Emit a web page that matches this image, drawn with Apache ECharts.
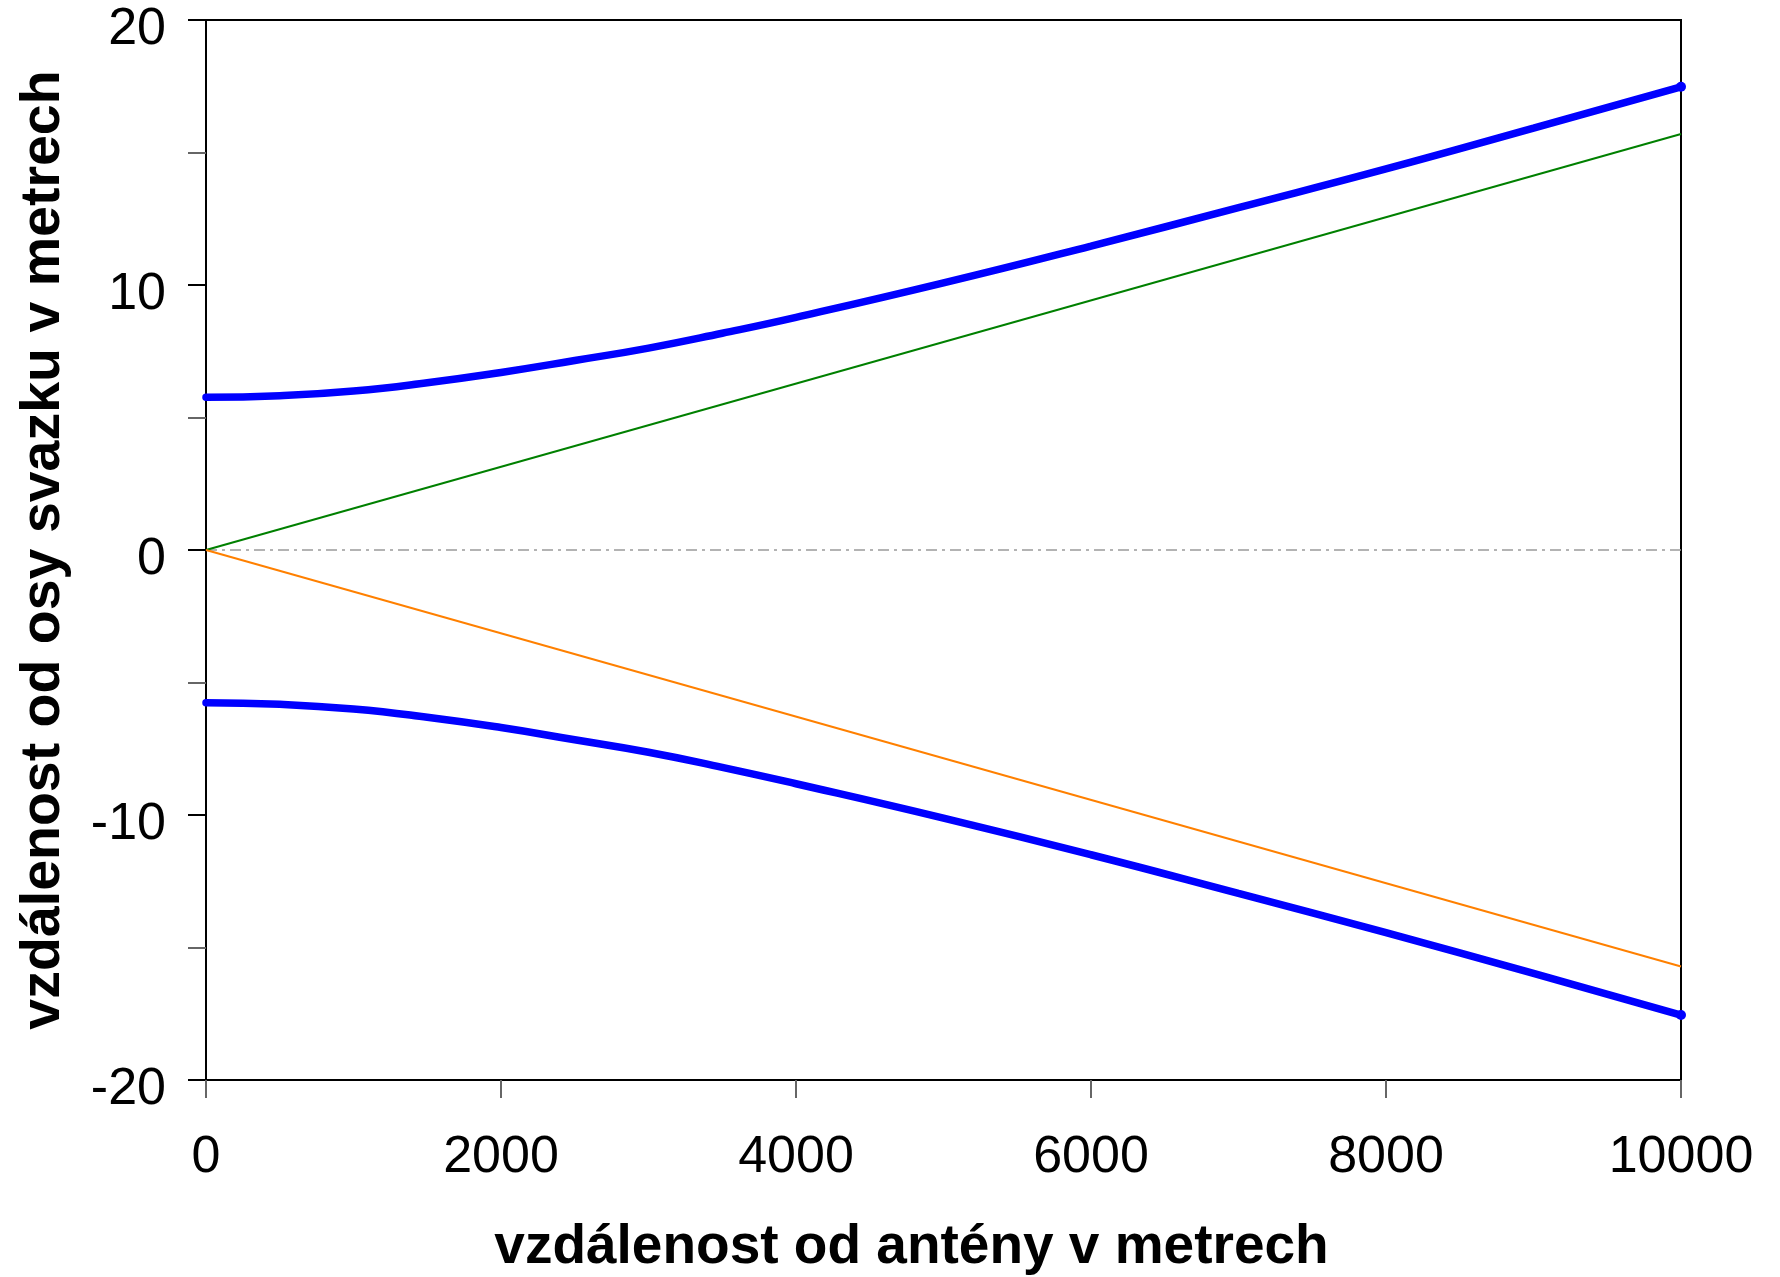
<!DOCTYPE html>
<html>
<head>
<meta charset="utf-8">
<script src="https://cdn.jsdelivr.net/npm/echarts@6/dist/echarts.min.js"></script>
<style>
html,body{margin:0;padding:0;background:#fff;}
#chart{width:1780px;height:1277px;}
</style>
</head>
<body>
<div id="chart"></div>
<script>
// Data
const distances = [0, 500, 1000, 1500, 2000, 2500, 3000, 3500, 4000, 5000, 6000, 7000, 8000, 9000, 10000];
const upperEdge = [5.76, 5.82, 6.0, 6.31, 6.7, 7.15, 7.62, 8.18, 8.78, 10.08, 11.47, 12.92, 14.38, 15.92, 17.48];
const lowerEdge = [-5.76, -5.82, -6.0, -6.31, -6.7, -7.16, -7.63, -8.2, -8.82, -10.12, -11.5, -12.96, -14.44, -15.98, -17.55];
const asymDistances = [0, 10000];
const upperAsym = [0, 15.7];
const lowerAsym = [0, -15.72];
const axisDistances = [0, 10000];
const axisValues = [0, 0];

const xTitle = 'vzdálenost od antény v metrech';
const yTitle = 'vzdálenost od osy svazku v metrech';

function pairs(xs, ys){ return xs.map((x,i)=>[x, ys[i]]); }
function endDot(n){ return function(v, p){ return p.dataIndex === n-1 ? 10 : 0; }; }

const chart = echarts.init(document.getElementById('chart'));
const font = '"Liberation Sans", Arial, sans-serif';
chart.setOption({
  animation: false,
  backgroundColor: '#fff',
  grid: { left: 206, top: 20, right: 99, bottom: 197, show: true, borderColor: '#000', borderWidth: 2,
          containLabel: false, outerBoundsMode: 'none' },
  xAxis: {
    type: 'value', min: 0, max: 10000, interval: 2000,
    name: xTitle, nameLocation: 'middle', nameGap: 140,
    nameTextStyle: { fontFamily: font, fontSize: 55, fontWeight: 'bold', color: '#000', padding: [0, 64, 0, 0] },
    axisLine: { show: true, onZero: false, lineStyle: { color: '#000', width: 2 } },
    axisTick: { show: true, length: 18, inside: false, lineStyle: { color: '#666', width: 2 } },
    axisLabel: { fontFamily: font, fontSize: 52, color: '#000', margin: 52, formatter: function(v){ return String(v); } },
    splitLine: { show: false }
  },
  yAxis: {
    type: 'value', min: -20, max: 20, interval: 10,
    name: yTitle, nameLocation: 'middle', nameGap: 134,
    nameTextStyle: { fontFamily: font, fontSize: 55.5, fontWeight: 'bold', color: '#000' },
    axisLine: { show: true, onZero: false, lineStyle: { color: '#000', width: 2 } },
    axisTick: { show: true, length: 18, lineStyle: { color: '#000', width: 2 } },
    minorTick: { show: true, splitNumber: 2, length: 18, lineStyle: { color: '#666', width: 2 } },
    axisLabel: { fontFamily: font, fontSize: 52, color: '#000', margin: 40,
      formatter: function(v){ return '{t|' + v + '}'; },
      rich: { t: { fontFamily: font, fontSize: 52, color: '#000', padding: [20, 0, 0, 0] } } },
    splitLine: { show: false }
  },
  series: [
    { type: 'line', data: pairs(axisDistances, axisValues), symbol: 'none', z: 1,
      lineStyle: { color: '#9a9a9a', width: 1.5, type: [11, 5, 3, 5] } },
    { type: 'line', data: pairs(asymDistances, upperAsym), symbol: 'none', z: 2,
      lineStyle: { color: '#008000', width: 2 } },
    { type: 'line', data: pairs(asymDistances, lowerAsym), symbol: 'none', z: 2,
      lineStyle: { color: '#ff8000', width: 2 } },
    { type: 'line', data: pairs(distances, upperEdge), smooth: true, z: 3,
      symbol: 'circle', symbolSize: endDot(distances.length), itemStyle: { color: '#0000ff' },
      lineStyle: { color: '#0000ff', width: 7.5, cap: 'round' } },
    { type: 'line', data: pairs(distances, lowerEdge), smooth: true, z: 3,
      symbol: 'circle', symbolSize: endDot(distances.length), itemStyle: { color: '#0000ff' },
      lineStyle: { color: '#0000ff', width: 7.5, cap: 'round' } }
  ]
});
</script>
</body>
</html>
